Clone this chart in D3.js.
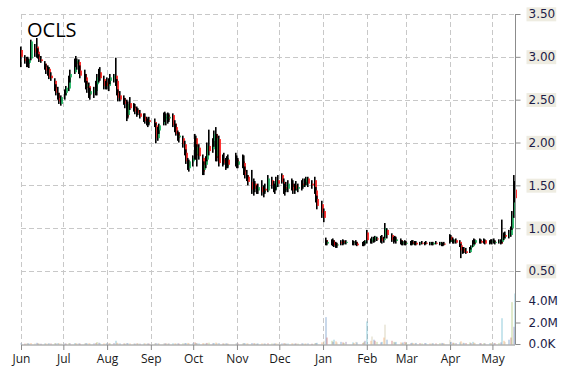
<!DOCTYPE html>
<html>
<head>
<meta charset="utf-8">
<script src="https://cdn.jsdelivr.net/npm/d3@7"></script>
<style>
  html, body { margin: 0; padding: 0; background: #ffffff; }
  #chart svg { display: block; }
</style>
</head>
<body>
<div id="chart"></div>
<script>
// ==========================================================================
// DATA - one row per session: [day, open, high, low, close, volume (K)]
// ==========================================================================

const ticker = 'OCLS';

const jun12 = [
  [1, 3.08, 3.12, 2.88, 3.00, 60], [4, 2.98, 3.02, 2.92, 2.95, 40], [5, 2.95, 3.00, 2.88, 2.92, 50],
  [6, 2.92, 3.00, 2.88, 2.96, 70], [7, 2.93, 2.98, 2.87, 2.97, 40], [8, 2.98, 3.20, 2.96, 3.18, 90],
  [11, 3.10, 3.15, 3.00, 3.05, 60], [12, 3.12, 3.22, 2.99, 3.05, 110], [13, 3.06, 3.10, 2.98, 3.00, 50],
  [14, 3.00, 3.03, 2.94, 2.97, 40], [15, 2.97, 3.01, 2.93, 2.95, 30], [18, 2.92, 2.95, 2.85, 2.88, 60],
  [19, 2.88, 2.92, 2.80, 2.84, 50], [20, 2.85, 2.90, 2.78, 2.88, 40], [21, 2.86, 2.88, 2.74, 2.76, 70],
  [22, 2.78, 2.82, 2.72, 2.75, 50], [25, 2.72, 2.75, 2.60, 2.63, 80], [26, 2.64, 2.68, 2.55, 2.58, 60],
  [27, 2.58, 2.65, 2.50, 2.52, 90], [28, 2.52, 2.58, 2.45, 2.48, 70], [29, 2.45, 2.55, 2.43, 2.53, 60]
];

const jul12 = [
  [2, 2.55, 2.62, 2.50, 2.58, 50], [3, 2.58, 2.66, 2.55, 2.64, 40], [5, 2.63, 2.78, 2.60, 2.76, 80],
  [6, 2.76, 2.85, 2.70, 2.80, 70], [9, 2.82, 2.98, 2.80, 2.95, 90], [10, 2.95, 3.01, 2.88, 2.92, 60],
  [11, 2.92, 2.98, 2.85, 2.96, 50], [12, 2.94, 2.97, 2.80, 2.84, 60], [13, 2.84, 2.90, 2.75, 2.78, 40],
  [16, 2.80, 2.85, 2.70, 2.74, 50], [17, 2.76, 2.80, 2.62, 2.64, 80], [18, 2.65, 2.72, 2.58, 2.68, 60],
  [19, 2.66, 2.70, 2.52, 2.55, 70], [20, 2.56, 2.64, 2.50, 2.60, 50], [23, 2.58, 2.65, 2.52, 2.62, 60],
  [24, 2.60, 2.72, 2.55, 2.70, 90], [25, 2.68, 2.80, 2.55, 2.76, 180], [26, 2.76, 2.86, 2.70, 2.82, 120],
  [27, 2.82, 2.88, 2.72, 2.75, 70], [30, 2.74, 2.78, 2.62, 2.66, 60], [31, 2.66, 2.72, 2.62, 2.70, 50]
];

const aug12 = [
  [1, 2.70, 2.76, 2.62, 2.66, 60], [2, 2.66, 2.75, 2.60, 2.72, 50], [3, 2.72, 2.80, 2.68, 2.76, 70],
  [6, 2.75, 2.80, 2.70, 2.78, 90], [7, 2.78, 2.99, 2.66, 2.72, 300], [8, 2.72, 2.74, 2.55, 2.58, 120],
  [9, 2.58, 2.62, 2.48, 2.52, 80], [10, 2.55, 2.60, 2.48, 2.50, 60], [13, 2.52, 2.55, 2.44, 2.48, 50],
  [14, 2.48, 2.52, 2.40, 2.45, 40], [15, 2.45, 2.50, 2.25, 2.30, 90], [16, 2.32, 2.48, 2.28, 2.45, 70],
  [17, 2.46, 2.53, 2.38, 2.40, 60], [20, 2.42, 2.46, 2.36, 2.40, 50], [21, 2.40, 2.45, 2.33, 2.36, 40],
  [22, 2.36, 2.42, 2.30, 2.38, 60], [23, 2.38, 2.40, 2.32, 2.34, 50], [24, 2.34, 2.38, 2.28, 2.30, 40],
  [27, 2.30, 2.34, 2.24, 2.28, 50], [28, 2.30, 2.34, 2.22, 2.25, 60], [29, 2.26, 2.30, 2.20, 2.22, 40],
  [30, 2.22, 2.28, 2.18, 2.26, 50], [31, 2.26, 2.30, 2.20, 2.24, 40]
];

const sep12 = [
  [4, 2.24, 2.28, 2.18, 2.20, 50], [5, 2.20, 2.23, 1.99, 2.05, 90], [6, 2.05, 2.18, 2.02, 2.15, 60],
  [7, 2.14, 2.22, 2.10, 2.20, 50], [10, 2.22, 2.35, 2.20, 2.32, 70], [11, 2.30, 2.36, 2.24, 2.28, 50],
  [12, 2.26, 2.34, 2.20, 2.32, 60], [13, 2.32, 2.35, 2.22, 2.26, 40], [14, 2.28, 2.34, 2.24, 2.30, 50],
  [17, 2.32, 2.34, 2.18, 2.20, 70], [18, 2.22, 2.26, 2.12, 2.16, 60], [19, 2.18, 2.22, 2.08, 2.10, 50],
  [20, 2.12, 2.14, 2.02, 2.05, 60], [21, 2.06, 2.12, 2.00, 2.08, 40], [24, 2.05, 2.08, 1.94, 1.98, 70],
  [25, 1.98, 2.02, 1.85, 1.88, 80], [26, 1.88, 1.92, 1.75, 1.78, 90], [27, 1.78, 1.82, 1.68, 1.72, 100],
  [28, 1.70, 1.80, 1.66, 1.78, 70]
];

const oct12 = [
  [1, 1.78, 1.85, 1.72, 1.82, 60], [2, 1.82, 2.10, 1.80, 2.05, 150], [3, 2.05, 2.08, 1.80, 1.85, 90],
  [4, 1.86, 1.98, 1.72, 1.95, 70], [5, 1.94, 1.98, 1.80, 1.84, 60], [8, 1.82, 1.86, 1.62, 1.66, 80],
  [9, 1.68, 1.78, 1.62, 1.74, 60], [10, 1.74, 1.84, 1.70, 1.80, 50], [11, 1.80, 2.00, 1.78, 1.96, 100],
  [12, 1.96, 2.15, 1.85, 1.90, 120], [15, 1.92, 2.05, 1.88, 2.02, 70], [16, 2.02, 2.14, 1.95, 2.10, 90],
  [17, 2.10, 2.18, 1.78, 1.82, 130], [18, 1.84, 2.10, 1.78, 2.05, 90], [19, 2.04, 2.08, 1.72, 1.76, 80],
  [22, 1.78, 1.86, 1.72, 1.80, 50], [23, 1.80, 1.88, 1.74, 1.76, 40], [24, 1.76, 1.82, 1.68, 1.72, 60],
  [25, 1.72, 1.84, 1.70, 1.82, 50], [26, 1.80, 1.86, 1.70, 1.74, 40], [31, 1.76, 1.88, 1.72, 1.80, 60]
];

const nov12 = [
  [1, 1.80, 1.85, 1.70, 1.74, 50], [2, 1.74, 1.82, 1.70, 1.78, 40], [5, 1.78, 1.86, 1.70, 1.76, 60],
  [6, 1.76, 1.85, 1.62, 1.66, 80], [7, 1.66, 1.72, 1.58, 1.62, 70], [8, 1.62, 1.68, 1.55, 1.58, 60],
  [9, 1.60, 1.62, 1.50, 1.54, 50], [12, 1.54, 1.68, 1.40, 1.45, 90], [13, 1.46, 1.58, 1.38, 1.52, 70],
  [14, 1.52, 1.55, 1.42, 1.46, 50], [15, 1.46, 1.50, 1.40, 1.44, 40], [16, 1.44, 1.52, 1.40, 1.48, 50],
  [19, 1.48, 1.56, 1.38, 1.42, 60], [20, 1.42, 1.50, 1.36, 1.46, 50], [21, 1.46, 1.52, 1.40, 1.44, 40],
  [23, 1.44, 1.62, 1.42, 1.58, 70], [26, 1.56, 1.60, 1.46, 1.50, 50], [27, 1.50, 1.55, 1.42, 1.45, 40],
  [28, 1.45, 1.52, 1.40, 1.50, 50], [29, 1.50, 1.60, 1.44, 1.56, 60], [30, 1.56, 1.62, 1.48, 1.52, 40]
];

const dec12 = [
  [3, 1.62, 1.64, 1.52, 1.54, 60], [4, 1.54, 1.58, 1.40, 1.44, 70], [5, 1.44, 1.52, 1.38, 1.48, 50],
  [6, 1.48, 1.54, 1.42, 1.46, 40], [7, 1.46, 1.56, 1.42, 1.52, 50], [10, 1.52, 1.58, 1.44, 1.48, 60],
  [11, 1.48, 1.56, 1.40, 1.44, 50], [12, 1.44, 1.52, 1.40, 1.50, 40], [13, 1.50, 1.55, 1.44, 1.46, 50],
  [14, 1.46, 1.52, 1.42, 1.48, 40], [17, 1.48, 1.56, 1.44, 1.52, 60], [18, 1.52, 1.58, 1.46, 1.50, 50],
  [19, 1.50, 1.58, 1.48, 1.56, 40], [20, 1.54, 1.60, 1.50, 1.58, 50], [21, 1.58, 1.60, 1.48, 1.52, 60],
  [24, 1.52, 1.56, 1.46, 1.50, 30], [26, 1.56, 1.60, 1.40, 1.44, 70], [27, 1.44, 1.48, 1.30, 1.34, 90],
  [28, 1.34, 1.38, 1.22, 1.26, 110], [31, 1.28, 1.32, 1.12, 1.18, 150]
];

const jan13 = [
  [2, 1.20, 1.23, 1.07, 1.12, 300], [3, 0.86, 0.89, 0.80, 0.82, 2500], [4, 0.82, 0.86, 0.80, 0.84, 600],
  [7, 0.84, 0.87, 0.80, 0.82, 300], [8, 0.86, 0.88, 0.79, 0.80, 200], [9, 0.84, 0.86, 0.78, 0.80, 400],
  [10, 0.82, 0.84, 0.77, 0.79, 250], [11, 0.80, 0.83, 0.77, 0.81, 150], [14, 0.84, 0.86, 0.80, 0.82, 200],
  [15, 0.82, 0.87, 0.80, 0.85, 150], [16, 0.85, 0.86, 0.81, 0.83, 100], [17, 0.83, 0.86, 0.81, 0.84, 200],
  [22, 0.84, 0.86, 0.80, 0.83, 150], [23, 0.83, 0.85, 0.80, 0.84, 100], [24, 0.84, 0.86, 0.80, 0.81, 200],
  [25, 0.82, 0.84, 0.79, 0.80, 150], [29, 0.81, 0.84, 0.79, 0.83, 100], [30, 0.82, 0.85, 0.79, 0.84, 200],
  [31, 0.84, 0.86, 0.80, 0.85, 300]
];

const feb13 = [
  [1, 0.95, 0.98, 0.82, 0.86, 2100], [4, 0.86, 0.88, 0.82, 0.84, 300], [5, 0.84, 0.90, 0.82, 0.88, 700],
  [6, 0.88, 0.90, 0.83, 0.86, 400], [7, 0.86, 0.91, 0.84, 0.90, 300], [8, 0.88, 0.90, 0.85, 0.87, 200],
  [11, 0.87, 0.91, 0.83, 0.89, 150], [12, 0.89, 0.92, 0.82, 0.85, 200], [13, 0.86, 0.90, 0.83, 0.88, 600],
  [14, 0.90, 1.06, 0.88, 1.00, 1800], [15, 0.98, 1.00, 0.88, 0.92, 400], [19, 0.92, 0.94, 0.84, 0.86, 300],
  [20, 0.86, 0.90, 0.82, 0.88, 200], [21, 0.88, 0.91, 0.84, 0.85, 150], [22, 0.85, 0.90, 0.82, 0.87, 200],
  [25, 0.86, 0.88, 0.81, 0.83, 150], [26, 0.84, 0.86, 0.80, 0.82, 100], [27, 0.82, 0.85, 0.80, 0.84, 150],
  [28, 0.84, 0.86, 0.80, 0.82, 200]
];

const mar13 = [
  [1, 0.82, 0.85, 0.80, 0.83, 100], [4, 0.83, 0.85, 0.80, 0.81, 80], [5, 0.81, 0.86, 0.80, 0.84, 120],
  [6, 0.84, 0.86, 0.81, 0.82, 90], [7, 0.82, 0.85, 0.80, 0.83, 70], [8, 0.83, 0.85, 0.80, 0.81, 100],
  [11, 0.82, 0.84, 0.80, 0.83, 80], [12, 0.83, 0.85, 0.81, 0.82, 60], [14, 0.82, 0.84, 0.80, 0.83, 90],
  [15, 0.83, 0.85, 0.81, 0.82, 70], [18, 0.82, 0.84, 0.80, 0.83, 60], [19, 0.83, 0.84, 0.80, 0.81, 80],
  [20, 0.81, 0.84, 0.80, 0.83, 70], [22, 0.83, 0.85, 0.81, 0.82, 60], [25, 0.82, 0.84, 0.80, 0.83, 90],
  [26, 0.83, 0.84, 0.79, 0.80, 100], [27, 0.81, 0.83, 0.79, 0.82, 70], [28, 0.82, 0.84, 0.80, 0.81, 60]
];

const apr13 = [
  [1, 0.84, 0.93, 0.82, 0.90, 400], [2, 0.90, 0.92, 0.84, 0.86, 200], [3, 0.86, 0.89, 0.82, 0.84, 120],
  [4, 0.84, 0.87, 0.82, 0.86, 100], [5, 0.86, 0.88, 0.82, 0.83, 90], [8, 0.84, 0.86, 0.78, 0.80, 150],
  [9, 0.80, 0.82, 0.65, 0.74, 250], [10, 0.74, 0.78, 0.70, 0.76, 120], [11, 0.76, 0.78, 0.71, 0.72, 100],
  [12, 0.73, 0.77, 0.70, 0.71, 90], [15, 0.72, 0.78, 0.71, 0.77, 150], [16, 0.77, 0.80, 0.75, 0.79, 100],
  [17, 0.79, 0.86, 0.78, 0.84, 200], [18, 0.84, 0.88, 0.81, 0.82, 120], [19, 0.83, 0.87, 0.81, 0.86, 100],
  [22, 0.86, 0.88, 0.82, 0.85, 80], [23, 0.85, 0.87, 0.82, 0.83, 70], [25, 0.84, 0.88, 0.82, 0.86, 90],
  [26, 0.86, 0.87, 0.81, 0.82, 60], [29, 0.82, 0.86, 0.81, 0.85, 80], [30, 0.85, 0.87, 0.82, 0.84, 70]
];

const may13 = [
  [1, 0.84, 0.87, 0.81, 0.85, 90], [2, 0.85, 0.88, 0.82, 0.83, 70], [3, 0.83, 0.86, 0.81, 0.84, 80],
  [6, 0.84, 0.87, 0.82, 0.85, 100], [7, 0.85, 0.87, 0.81, 0.82, 150], [8, 0.84, 1.10, 0.82, 0.88, 2400],
  [9, 0.88, 0.95, 0.86, 0.93, 300], [10, 0.92, 0.96, 0.88, 0.90, 200], [13, 0.90, 0.98, 0.88, 0.94, 400],
  [14, 0.92, 1.02, 0.90, 1.00, 600], [15, 1.00, 1.20, 0.98, 1.15, 3900], [16, 1.15, 1.62, 1.12, 1.45, 1600],
  [17, 1.45, 1.55, 1.30, 1.35, 4700]
];

// month blocks: [year, month index, rows]
const monthBlocks = [
  [2012, 5, jun12], [2012, 6, jul12], [2012, 7, aug12], [2012, 8, sep12],
  [2012, 9, oct12], [2012, 10, nov12], [2012, 11, dec12], [2013, 0, jan13],
  [2013, 1, feb13], [2013, 2, mar13], [2013, 3, apr13], [2013, 4, may13]
];

const priceTicks = [0.5, 1.0, 1.5, 2.0, 2.5, 3.0, 3.5];
const volumeTicks = [0, 2000000, 4000000];

// ==========================================================================
// CHART CONFIG
// ==========================================================================

const CHART_CONFIG = {
  width: 570,
  height: 370,
  plotLeft: 21,
  plotRight: 515,
  priceTop: 14,
  priceBottom: 271,
  volTop: 301,
  volBottom: 344.5,
  grid: '#c8c8c8',
  axis: '#8c8c8c',
  up: '#00b050',
  down: '#ff0000',
  wick: '#000000',
  labelBg: '#eeece1',
  labelColor: '#1c1c48',
  volColors: ['#4f81bd', '#c0504d', '#9bbb59', '#8064a2', '#4bacc6', '#f79646', '#c4bd97']
};

// ==========================================================================
// BUILD TABLE
// ==========================================================================

const rows = [];
monthBlocks.forEach(([yr, mo, list]) => {
  list.forEach(r => {
    rows.push({
      date: new Date(yr, mo, r[0]),
      open: r[1], high: r[2], low: r[3], close: r[4],
      volume: r[5] * 1000
    });
  });
});

// ==========================================================================
// RENDER
// ==========================================================================

const C = CHART_CONFIG;

const svg = d3.select('#chart')
  .append('svg')
  .attr('width', C.width)
  .attr('height', C.height);

const x = d3.scaleTime()
  .domain([rows[0].date, rows[rows.length - 1].date])
  .range([C.plotLeft, C.plotRight]);

const yPrice = d3.scaleLinear()
  .domain([0.5, 3.5])
  .range([C.priceBottom, C.priceTop]);

const yVol = d3.scaleLinear()
  .domain([0, 4000000])
  .range([C.volBottom - 0.5, C.volTop]);

const monthTicks = d3.timeMonth.range(new Date(2012, 5, 1), new Date(2013, 5, 1));

// grid
const grid = svg.append('g').attr('class', 'grid');

grid.selectAll('.hgrid')
  .data(priceTicks)
  .enter().append('line')
  .attr('x1', C.plotLeft)
  .attr('x2', C.plotRight)
  .attr('y1', d => Math.round(yPrice(d)) + 0.5)
  .attr('y2', d => Math.round(yPrice(d)) + 0.5)
  .attr('stroke', C.grid)
  .attr('stroke-dasharray', '5,3');

grid.selectAll('.vgrid')
  .data(monthTicks)
  .enter().append('line')
  .attr('x1', d => Math.round(x(d)) + 0.5)
  .attr('x2', d => Math.round(x(d)) + 0.5)
  .attr('y1', C.priceTop)
  .attr('y2', C.volBottom)
  .attr('stroke', C.grid)
  .attr('stroke-dasharray', '5,3');

// volume bars
const volColor = d3.scaleOrdinal().range(C.volColors);

svg.append('g').attr('class', 'volume')
  .selectAll('rect')
  .data(rows)
  .enter().append('rect')
  .attr('x', d => Math.round(x(d.date)) - 0.5)
  .attr('width', 1)
  .attr('y', d => yVol(d.volume))
  .attr('height', d => Math.max(1, C.volBottom - yVol(d.volume)))
  .attr('fill', (d, i) => volColor(i % C.volColors.length))
  .attr('fill-opacity', 0.6);

// candles
const candles = svg.append('g').attr('class', 'candles')
  .selectAll('g')
  .data(rows)
  .enter().append('g');

candles.append('rect')
  .attr('x', d => Math.round(x(d.date)) - 1)
  .attr('width', 1.6)
  .attr('y', d => yPrice(d.high))
  .attr('height', d => Math.max(1, yPrice(d.low) - yPrice(d.high)))
  .attr('fill', C.wick);

candles.append('rect')
  .attr('x', d => Math.round(x(d.date)) + 0.4)
  .attr('width', 1.4)
  .attr('y', d => yPrice(Math.max(d.open, d.close)))
  .attr('height', d => Math.max(1, Math.abs(yPrice(d.open) - yPrice(d.close))))
  .attr('fill', d => d.close >= d.open ? C.up : C.down);

// right axis line
svg.append('line')
  .attr('x1', C.plotRight + 0.5)
  .attr('x2', C.plotRight + 0.5)
  .attr('y1', C.priceTop)
  .attr('y2', C.volBottom)
  .attr('stroke', C.axis);

// price axis
const priceAxis = svg.append('g')
  .attr('class', 'price-axis')
  .attr('transform', `translate(${C.plotRight + 0.5},0)`)
  .call(d3.axisRight(yPrice).tickValues(priceTicks).tickSize(5).tickPadding(8)
    .tickFormat(d3.format('.2f')));

priceAxis.select('.domain').remove();
priceAxis.selectAll('.tick line').attr('stroke', C.axis);
priceAxis.selectAll('.tick text')
  .style('font-family', '"DejaVu Sans", Verdana, sans-serif')
  .style('font-size', '12px')
  .attr('fill', C.labelColor);

priceAxis.selectAll('.tick').each(function() {
  const t = d3.select(this);
  const box = t.select('text').node().getBBox();
  t.insert('rect', 'text')
    .attr('x', box.x - 2)
    .attr('y', box.y)
    .attr('width', box.width + 3)
    .attr('height', box.height)
    .attr('fill', C.labelBg);
});

// volume axis
const volAxis = svg.append('g')
  .attr('class', 'vol-axis')
  .attr('transform', `translate(${C.plotRight + 0.5},0)`)
  .call(d3.axisRight(yVol).tickValues(volumeTicks).tickSize(5).tickPadding(8)
    .tickFormat(d => d === 0 ? '0.0K' : (d / 1e6).toFixed(1) + 'M'));

volAxis.select('.domain').remove();
volAxis.selectAll('.tick line').attr('stroke', C.axis);
volAxis.selectAll('.tick text')
  .style('font-family', '"DejaVu Sans", Verdana, sans-serif')
  .style('font-size', '12px')
  .attr('fill', C.labelColor);

// x axis
const xAxis = svg.append('g')
  .attr('class', 'x-axis')
  .attr('transform', `translate(0,${C.volBottom + 0.5})`)
  .call(d3.axisBottom(x).tickValues(monthTicks).tickSize(5).tickPadding(4)
    .tickFormat(d3.timeFormat('%b')));

xAxis.select('.domain')
  .attr('stroke', C.axis)
  .attr('d', `M${C.plotLeft},0H${C.plotRight}`);
xAxis.selectAll('.tick line').attr('stroke', C.axis);
xAxis.selectAll('.tick text')
  .style('font-family', '"Open Sans", sans-serif')
  .style('font-size', '12px')
  .attr('fill', '#1a1a1a');

// title
svg.append('text')
  .attr('x', 27)
  .attr('y', 37)
  .style('font-family', '"Open Sans", sans-serif')
  .style('font-size', '20px')
  .attr('fill', '#000000')
  .text(ticker);
</script>
</body>
</html>
